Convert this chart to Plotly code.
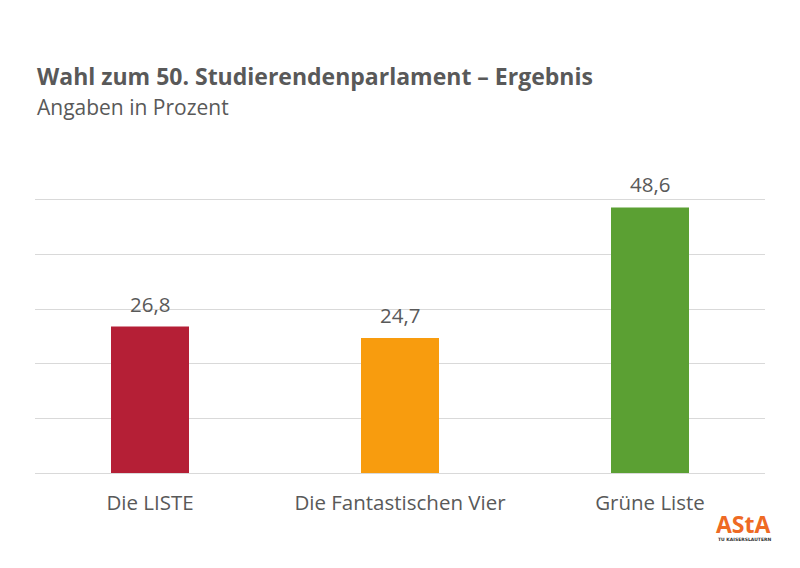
import plotly.graph_objects as go

# Wahlergebnis
lists = ["Die LISTE", "Die Fantastischen Vier", "Grüne Liste"]
percent = [26.8, 24.7, 48.6]
labels = ["26,8", "24,7", "48,6"]
colors = ["#b51f36", "#f89c0e", "#5ba033"]

GREY = "#595959"
FONT = "Open Sans"

fig = go.Figure()
fig.add_trace(go.Bar(
    x=lists,
    y=percent,
    width=0.312,
    marker=dict(color=colors, line=dict(width=0)),
))

# page has an 8px body margin, so margins are 8 less on left and top
fig.update_layout(
    width=800,
    height=568,
    margin=dict(l=27, r=43, t=137, b=103),
    paper_bgcolor="white",
    plot_bgcolor="white",
    showlegend=False,
    font=dict(family=FONT, color=GREY),
    xaxis=dict(
        range=[-0.46, 2.46],
        showgrid=False,
        showline=True,
        linecolor="#d9d9d9",
        linewidth=1,
        ticks="",
        ticklabelstandoff=11,
        tickfont=dict(family=FONT, size=20.5, color=GREY),
    ),
    yaxis=dict(
        range=[0, 60.02],
        dtick=10,
        showticklabels=False,
        showline=False,
        zeroline=False,
        gridcolor="#d9d9d9",
        gridwidth=1,
    ),
)

# werte ueber den balken
for name, val, lab in zip(lists, percent, labels):
    fig.add_annotation(
        x=name, y=val, text=lab, yshift=23, showarrow=False,
        xanchor="center", yanchor="middle",
        font=dict(family=FONT, size=20.5, color=GREY),
    )

# titel
fig.add_annotation(
    text="<b>Wahl zum 50. Studierendenparlament – Ergebnis</b>",
    xref="paper", yref="paper", x=0, y=1, yshift=69,
    xanchor="left", yanchor="middle", showarrow=False, align="left",
    font=dict(family=FONT, size=23, color=GREY),
)
fig.add_annotation(
    text="Angaben in Prozent",
    xref="paper", yref="paper", x=0, y=1, yshift=38,
    xanchor="left", yanchor="middle", showarrow=False, align="left",
    font=dict(family=FONT, size=21, color=GREY),
)

# logo
fig.add_annotation(
    text="<b>AStA</b>",
    xref="paper", yref="paper", x=1, y=0, xshift=8, yshift=-51,
    xanchor="right", yanchor="middle", showarrow=False,
    font=dict(family=FONT, size=23, color="#ee6a24"),
)
fig.add_annotation(
    text="<b>TU KAISERSLAUTERN</b>",
    xref="paper", yref="paper", x=1, y=0, xshift=8, yshift=-66,
    xanchor="right", yanchor="middle", showarrow=False,
    font=dict(family="DejaVu Sans", size=4.5, color="#333333"),
)

fig.write_html("out.html")
